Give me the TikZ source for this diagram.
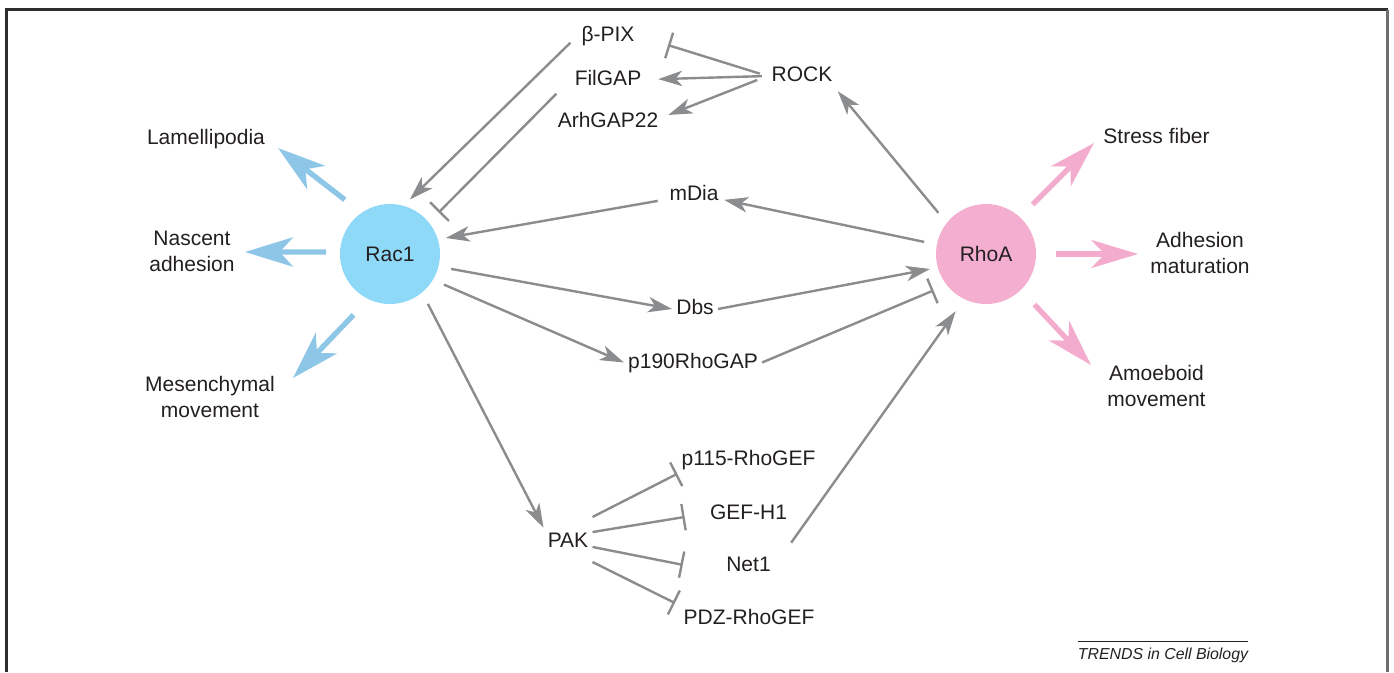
\documentclass[tikz,border=0pt]{standalone}
\usepackage{fontspec}
\setmainfont{Liberation Sans}
\usepackage{tikz}
\usetikzlibrary{arrows.meta}
\tikzset{font={\fontsize{15.75pt}{19.5pt}\selectfont}}
\definecolor{racblue}{RGB}{142,216,248}
\definecolor{racarrow}{RGB}{142,198,232}
\definecolor{rhopink}{RGB}{244,174,208}
\definecolor{rhoarrow}{RGB}{244,172,206}
\definecolor{linkgray}{RGB}{138,140,142}
\definecolor{inkgray}{RGB}{35,31,32}
\definecolor{framedark}{RGB}{45,45,45}
\definecolor{frameside}{RGB}{110,110,110}

\begin{document}
\begin{tikzpicture}[x=0.75pt,y=-0.75pt,
every node/.style={text=inkgray},
gtpase/.style={circle,minimum size=75pt,inner sep=0pt,outer sep=6pt},
protein/.style={inner sep=3pt,text height=11.25pt,text depth=3pt},
outcome/.style={align=center,inner sep=3pt},
act/.style={draw=linkgray,line width=1.8pt,-{Stealth[length=18pt,width=11.5pt,inset=5pt]}},
inh/.style={draw=linkgray,line width=1.8pt,-{Bar[width=20pt]}},
racout/.style={draw=racarrow,line width=4pt,-{Stealth[length=36pt,width=22pt,inset=10pt]}},
rhoout/.style={draw=rhoarrow,line width=4pt,-{Stealth[length=35pt,width=21pt,inset=10pt]}}
]
\useasboundingbox (0,0) rectangle (1394,672);
\draw[line width=1.8pt,framedark] (6.5,672) -- (6.5,9.5) -- (1387.5,9.5);
\draw[line width=2.2pt,frameside] (1387.5,9.5) -- (1387.5,672);

\node[gtpase,fill=racblue] (rac1) at (390,254) {Rac1};
\node[gtpase,fill=rhopink] (rhoa) at (986,254) {RhoA};

\node[protein] (bpix) at (608,36) {β-PIX};
\node[protein] (filgap) at (608,79.5) {FilGAP};
\node[protein] (arhgap) at (608,122) {ArhGAP22};
\node[protein] (rock) at (802,76) {ROCK};
\node[protein] (mdia) at (694,194.5) {mDia};
\node[protein] (dbs) at (695,309) {Dbs};
\node[protein] (p190) at (693,362.5) {p190RhoGAP};
\node[protein] (pak) at (568,541.5) {PAK};
\node[protein] (p115) at (748.5,460) {p115-RhoGEF};
\node[protein] (gefh1) at (748.5,513.5) {GEF-H1};
\node[protein] (net1) at (748.5,565.5) {Net1};
\node[protein] (pdz) at (749,619) {PDZ-RhoGEF};

\node[outcome] (lamelli) at (206,139.5) {Lamellipodia};
\node[outcome] (nascent) at (192,251) {Nascent\\adhesion};
\node[outcome] (mesench) at (210,397) {Mesenchymal\\movement};
\node[outcome] (stress) at (1156.5,135.5) {Stress fiber};
\node[outcome] (maturation) at (1200,253) {Adhesion\\maturation};
\node[outcome] (amoeboid) at (1156.5,385.5) {Amoeboid\\movement};

\coordinate (lamtip) at (278,148);
\coordinate (nastip) at (245,252);
\coordinate (mestip) at (293,378);
\coordinate (stresstip) at (1094,143);
\coordinate (adhtip) at (1138,254);
\coordinate (amotip) at (1091,365);

\draw[racout,shorten <=9.75pt] (rac1.127) -- (lamtip);
\draw[racout,shorten <=4.5pt] (rac1.178) -- (nastip);
\draw[racout,shorten <=10pt] (rac1.-118) -- (mestip);
\draw[rhoout,shorten <=7.5pt] (rhoa.47) -- (stresstip);
\draw[rhoout,shorten <=9pt] (rhoa.0) -- (adhtip);
\draw[rhoout,shorten <=9pt] (rhoa.-46) -- (amotip);

\draw[act,shorten <=7.2pt] (bpix.west) -- (rac1.70);
\draw[inh,shorten <=15pt,shorten >=4.5pt] (filgap.west) -- (rac1.40);
\draw[inh,shorten <=6pt,shorten >=23pt] (rock.west) -- (bpix.east);
\draw[act,shorten <=4.2pt,shorten >=9.5pt] (rock.west) -- (filgap.east);
\draw[act,shorten <=8.2pt,shorten >=4.7pt] (rock.west) -- (arhgap.5);
\draw[act,shorten <=3.75pt,shorten >=1.5pt] (rhoa.140) -- (rock.south east);
\draw[act,shorten <=3.75pt,shorten >=1pt] (rhoa.169) -- (mdia.-10);
\draw[act,shorten <=5.7pt] (mdia.190) -- (rac1.16);
\draw[act,shorten <=3.75pt] (rac1.-14) -- (dbs.west);
\draw[act] (dbs.east) -- (rhoa.-165);
\draw[act,shorten <=3pt] (rac1.-30) -- (p190.west);
\draw[inh,shorten >=4.5pt] (p190.east) -- (rhoa.-144);
\draw[act,shorten <=3.5pt] (rac1.-52) -- (pak.north west);
\draw[inh] ([yshift=18.4pt]pak.east) -- (p115.south west);
\draw[inh,shorten >=16pt] ([yshift=7.1pt]pak.east) -- (gefh1.west);
\draw[inh,shorten >=30pt] ([yshift=-4.1pt]pak.east) -- (net1.195);
\draw[inh,shorten >=3.75pt] ([yshift=-15.4pt]pak.east) -- (pdz.north west);
\draw[act,shorten <=21pt,shorten >=5.25pt] (net1.east) -- (rhoa.-117);

\node[font={\fontsize{11.9pt}{14pt}\selectfont\itshape},inner sep=0pt,text height=8.8pt,text depth=0pt] (trends) at (1163,653.5) {TRENDS in Cell Biology};
\draw[line width=0.8pt,inkgray] ([yshift=4.5pt]trends.north west) -- ([yshift=4.5pt]trends.north east);
\end{tikzpicture}
\end{document}
